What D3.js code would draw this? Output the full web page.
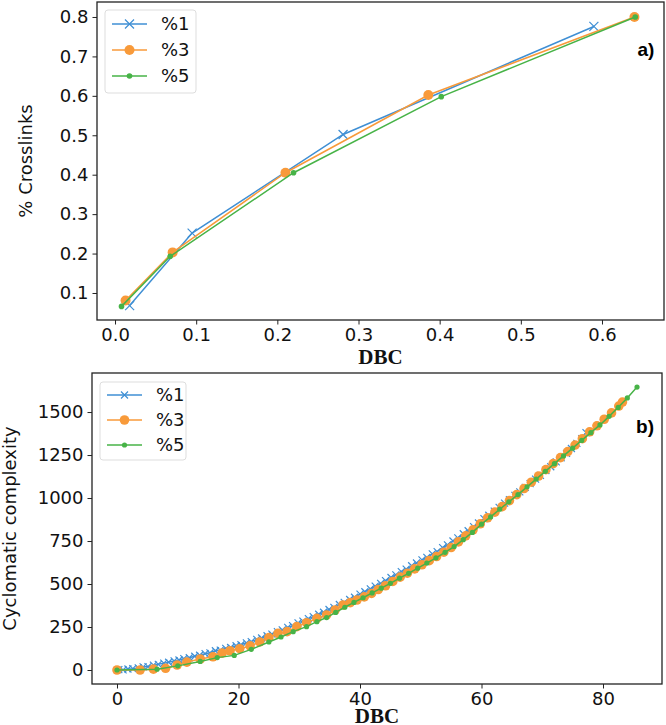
<!DOCTYPE html>
<html><head><meta charset="utf-8">
<script src="https://cdn.jsdelivr.net/npm/d3@7/dist/d3.min.js"></script>
<style>body{margin:0;background:#fff}svg{display:block}</style>
</head><body>
<script>
// ---------- DATA ----------
const seriesNames = ["%1", "%3", "%5"];
// Panel a)
const aX1 = [0.018, 0.095, 0.281, 0.590];
const aY1 = [0.068, 0.252, 0.502, 0.776];
const aX3 = [0.013, 0.071, 0.210, 0.386, 0.640];
const aY3 = [0.081, 0.203, 0.405, 0.602, 0.800];
const aX5 = [0.008, 0.068, 0.220, 0.402, 0.641];
const aY5 = [0.066, 0.193, 0.405, 0.598, 0.800];
const aXTicks = [0.0, 0.1, 0.2, 0.3, 0.4, 0.5, 0.6];
const aYTicks = [0.1, 0.2, 0.3, 0.4, 0.5, 0.6, 0.7, 0.8];
// Panel b)
const bX1 = [0.3,1.0,1.8,2.6,3.5,4.3,5.1,6.0,6.8,7.7,8.5,9.4,10.2,11.0,11.9,12.8,13.6,14.5,15.3,16.2,17.0,17.9,18.7,19.6,20.4,21.3,22.1,23.0,23.8,24.7,25.5,26.4,27.2,28.1,28.9,29.8,30.6,31.5,32.3,33.2,34.0,34.9,35.7,36.6,37.4,38.3,39.1,40.0,40.8,41.7,42.5,43.4,44.2,45.1,45.9,46.8,47.6,48.5,49.3,50.2,51.0,51.9,52.7,53.6,54.4,55.3,56.1,57.0,57.8,58.7,59.5,60.4,61.2,62.1,62.9,63.8,64.6,65.5,66.3,67.2,68.0,68.9,69.7,70.6,71.4,72.3,73.1,74.0,74.8,75.7,76.5,77.2];
const bY1 = [2,1,6,8,12,18,20,28,33,40,45,53,58,66,71,80,86,95,100,112,116,126,131,141,147,158,165,178,186,199,209,223,233,248,258,274,284,299,310,324,336,352,364,381,393,410,423,441,455,472,488,504,520,538,553,572,587,606,622,640,655,675,688,712,728,750,768,792,810,834,855,880,900,924,946,970,990,1015,1036,1062,1084,1110,1132,1160,1182,1210,1234,1260,1288,1318,1345,1380];
const bX3 = [0,3.8,6.0,8.0,9.9,11.5,13.7,15.8,17.3,18.6,20.2,21.9,23.5,25.0,26.5,28.0,29.6,31.2,32.9,34.5,35.9,37.2,38.4,39.5,40.7,41.9,43.0,44.2,45.4,46.6,47.8,49.0,50.2,51.4,52.6,53.8,55.0,56.2,57.4,58.6,59.8,61.0,62.2,63.4,64.6,65.8,67.0,68.2,69.4,70.6,71.8,73.0,74.2,75.4,76.6,77.8,79.0,80.2,81.4,82.6,83.2];
const bY3 = [0,0,5,10,29,46,64,77,98,112,124,140,163,188,213,223,252,275,300,320,349,378,392,407,425,445,468,490,515,540,563,588,612,636,660,685,712,745,780,815,850,885,918,950,985,1020,1055,1092,1128,1165,1200,1235,1270,1308,1345,1385,1420,1458,1495,1535,1558];
const bX5 = [0,6.6,10.0,13.7,16.5,19.3,22.1,25.0,27.0,29.0,31.2,32.9,34.5,36.0,37.5,39.0,40.5,42.0,43.5,45.0,46.5,48.0,49.5,51.0,52.5,54.0,55.5,57.0,58.5,60.0,61.5,63.0,64.5,66.0,67.5,69.0,70.5,72.0,73.5,75.0,76.5,78.0,79.5,81.0,82.5,84.0,85.6];
const bY5 = [0,5,24,50,72,85,120,163,192,223,252,281,305,335,365,393,420,448,476,504,534,562,592,622,652,684,718,758,800,848,890,935,978,1020,1065,1110,1155,1200,1245,1290,1335,1380,1425,1475,1527,1582,1645];
const bXTicks = [0, 20, 40, 60, 80];
const bYTicks = [0, 250, 500, 750, 1000, 1250, 1500];

// ---------- STYLE ----------
const colors = ["#3f8fd4", "#f89a3a", "#47b347"];
const W = 666, H = 725;
const svg = d3.select("body").append("svg").attr("width", W).attr("height", H);
const tickFont = "DejaVu Sans, sans-serif";

function zip(xs, ys){ return xs.map((x,i)=>[x, ys[i]]); }

function drawPanel(cfg){
  const g = svg.append("g");
  const x = d3.scaleLinear().domain(cfg.xDom).range([cfg.left, cfg.right]);
  const y = d3.scaleLinear().domain(cfg.yDom).range([cfg.bottom, cfg.top]);
  const clipId = "clip" + cfg.id;
  svg.append("clipPath").attr("id", clipId).append("rect")
    .attr("x", cfg.left).attr("y", cfg.top).attr("width", cfg.right-cfg.left).attr("height", cfg.bottom-cfg.top);
  const plot = g.append("g").attr("clip-path", `url(#${clipId})`);
  const line = d3.line().x(d=>x(d[0])).y(d=>y(d[1]));
  cfg.series.forEach((s, i) => {
    const pts = zip(s.x, s.y);
    plot.append("path").datum(pts).attr("d", line)
      .attr("fill","none").attr("stroke", colors[i]).attr("stroke-width", 1.5);
    if (i === 0) {
      const m = cfg.xSize;
      plot.append("g").selectAll("path").data(pts).join("path")
        .attr("d", d => `M${x(d[0])-m},${y(d[1])-m}L${x(d[0])+m},${y(d[1])+m}M${x(d[0])-m},${y(d[1])+m}L${x(d[0])+m},${y(d[1])-m}`)
        .attr("stroke", colors[i]).attr("stroke-width", 1.2).attr("fill","none");
    } else {
      plot.append("g").selectAll("circle").data(pts).join("circle")
        .attr("cx", d=>x(d[0])).attr("cy", d=>y(d[1]))
        .attr("r", i === 1 ? cfg.r3 : cfg.r5).attr("fill", colors[i]);
    }
  });
  // axes
  const xAxis = d3.axisBottom(x).tickValues(cfg.xTicks).tickSize(4.5).tickPadding(3).tickFormat(cfg.xFmt);
  const yAxis = d3.axisLeft(y).tickValues(cfg.yTicks).tickSize(4.5).tickPadding(4).tickFormat(cfg.yFmt);
  const gx = g.append("g").attr("transform", `translate(0,${cfg.bottom})`).call(xAxis);
  const gy = g.append("g").attr("transform", `translate(${cfg.left},0)`).call(yAxis);
  [gx, gy].forEach(a => {
    a.select(".domain").remove();
    a.selectAll("line").attr("stroke", "#222").attr("stroke-width", 1);
    a.selectAll("text").attr("font-family", tickFont).attr("font-size", 18).attr("fill", "#111");
  });
  gx.selectAll("text").attr("dy", "0.75em");
  // frame
  g.append("rect").attr("x", cfg.left).attr("y", cfg.top)
    .attr("width", cfg.right-cfg.left).attr("height", cfg.bottom-cfg.top)
    .attr("fill","none").attr("stroke","#222").attr("stroke-width", 1.3);
  // axis labels
  g.append("text").attr("x", (cfg.left+cfg.right)/2).attr("y", cfg.xLabelY)
    .attr("text-anchor","middle").attr("font-family","Liberation Serif, serif")
    .attr("font-weight","bold").attr("font-size", 21).attr("fill","#111").text("DBC");
  g.append("text").attr("transform", `translate(${cfg.yLabelX},${(cfg.top+cfg.bottom)/2}) rotate(-90)`)
    .attr("text-anchor","middle").attr("font-family", tickFont)
    .attr("font-size", 18).attr("fill","#111").text(cfg.yLabel);
  // panel tag
  g.append("text").attr("x", cfg.tag[0]).attr("y", cfg.tag[1]).attr("text-anchor","middle")
    .attr("font-family","Liberation Sans, Arial, sans-serif").attr("font-weight","bold")
    .attr("font-size", 19).attr("fill","#000").text(cfg.tag[2]);
  // legend
  const L = cfg.legend;
  const lg = g.append("g");
  lg.append("rect").attr("x", L.x).attr("y", L.y).attr("width", L.w).attr("height", L.h)
    .attr("rx", 3).attr("fill","#fff").attr("fill-opacity",0.8).attr("stroke","#ddd").attr("stroke-width",1);
  seriesNames.forEach((nm, i) => {
    const yy = L.y + L.first + i*L.step;
    const x0 = L.x + 7, x1 = L.x + 42, xm = (x0+x1)/2;
    lg.append("line").attr("x1", x0).attr("x2", x1).attr("y1", yy).attr("y2", yy)
      .attr("stroke", colors[i]).attr("stroke-width", 1.5);
    if (i === 0) {
      const m = cfg.xSize;
      lg.append("path").attr("d", `M${xm-m},${yy-m}L${xm+m},${yy+m}M${xm-m},${yy+m}L${xm+m},${yy-m}`)
        .attr("stroke", colors[i]).attr("stroke-width", 1.2);
    } else {
      lg.append("circle").attr("cx", xm).attr("cy", yy).attr("r", i===1 ? cfg.r3 : cfg.r5).attr("fill", colors[i]);
    }
    lg.append("text").attr("x", L.x + 56).attr("y", yy).attr("dy","0.36em")
      .attr("font-family", tickFont).attr("font-size", 18).attr("fill","#111").text(nm);
  });
}

drawPanel({
  id: "a", left: 97, right: 664, top: 2, bottom: 320,
  xDom: [-0.0222, 0.6764], yDom: [0.0315, 0.838],
  xTicks: aXTicks, yTicks: aYTicks, xFmt: d3.format(".1f"), yFmt: d3.format(".1f"),
  series: [{x:aX1,y:aY1},{x:aX3,y:aY3},{x:aX5,y:aY5}],
  xSize: 4.5, r3: 5, r5: 2.8,
  xLabelY: 364, yLabelX: 32, yLabel: "% Crosslinks",
  tag: [646, 56, "a)"],
  legend: {x: 105, y: 10, w: 91, h: 83, first: 14, step: 26}
});

drawPanel({
  id: "b", left: 92, right: 662, top: 373, bottom: 684,
  xDom: [-4.115, 89.71], yDom: [-81.4, 1727],
  xTicks: bXTicks, yTicks: bYTicks, xFmt: d3.format("d"), yFmt: d3.format("d"),
  series: [{x:bX1,y:bY1},{x:bX3,y:bY3},{x:bX5,y:bY5}],
  xSize: 3.5, r3: 4.8, r5: 2.6,
  xLabelY: 723, yLabelX: 16, yLabel: "Cyclomatic complexity",
  tag: [645, 433, "b)"],
  legend: {x: 100, y: 382, w: 86, h: 78, first: 13, step: 25}
});
</script>
</body></html>
